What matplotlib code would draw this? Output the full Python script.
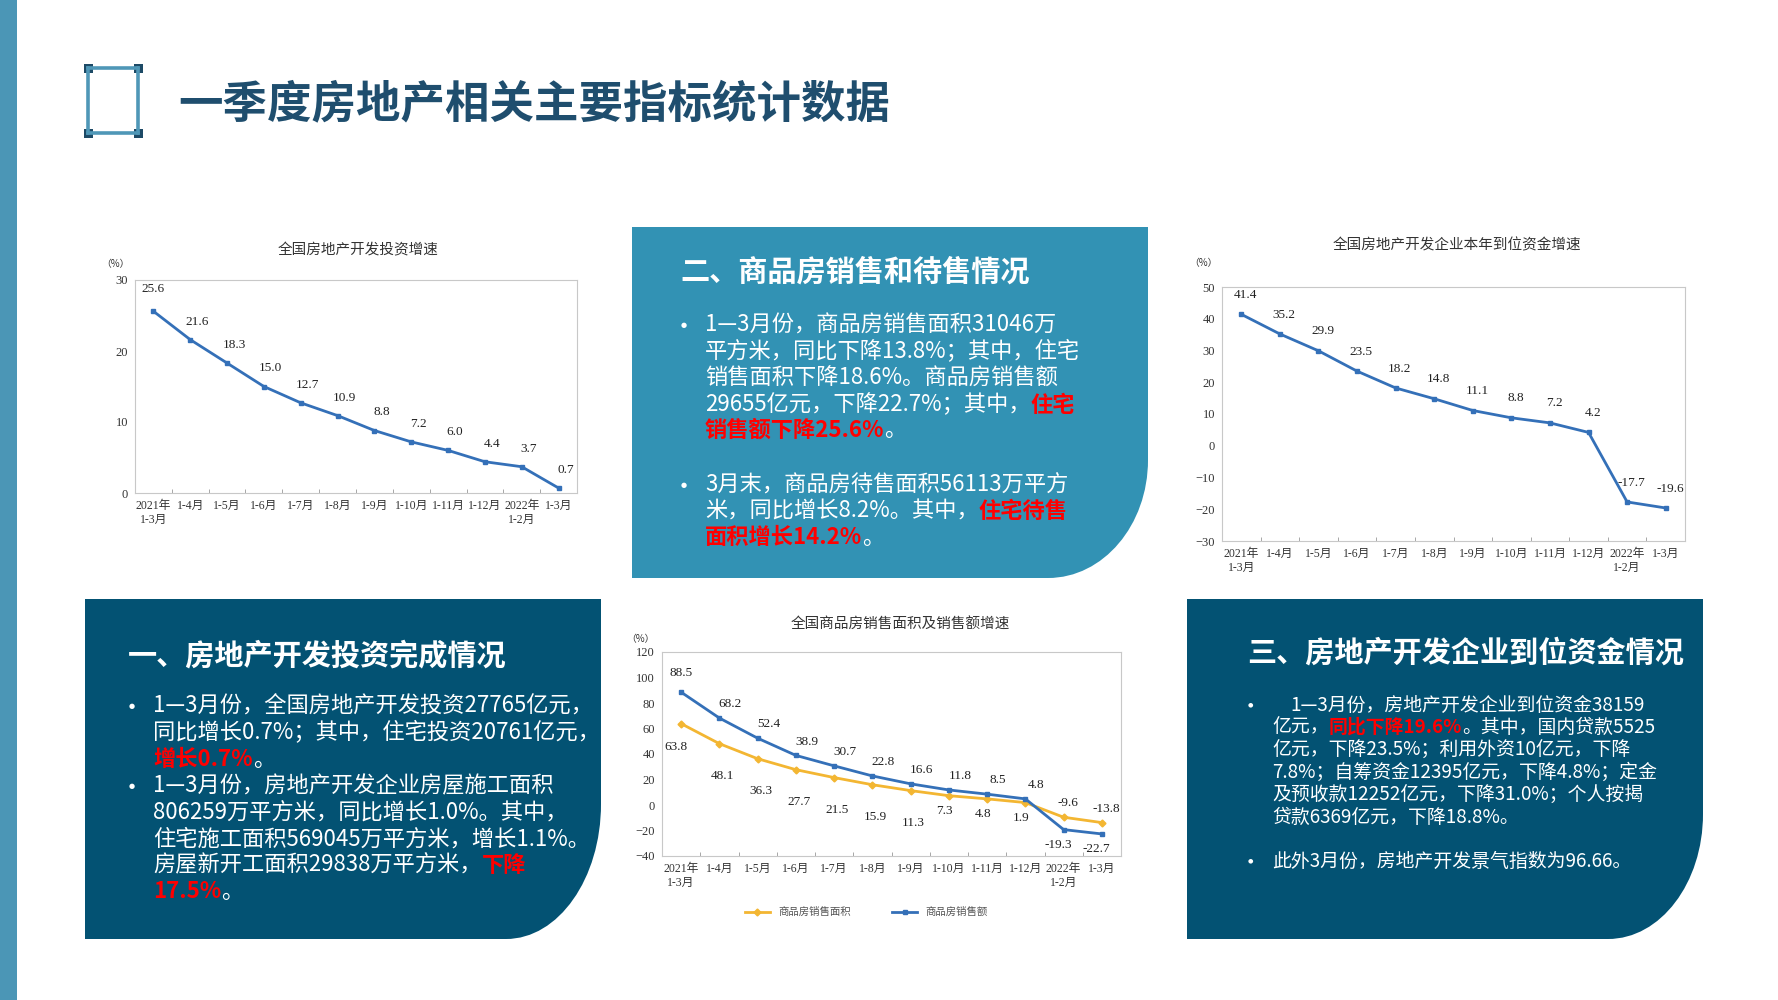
import matplotlib
matplotlib.use("Agg")
import matplotlib.pyplot as plt
from matplotlib.path import Path
from matplotlib.patches import PathPatch, Rectangle
from matplotlib.lines import Line2D
from matplotlib.transforms import Affine2D

W, H = 1778, 1000
CJK = ['Noto Sans CJK SC', 'DejaVu Sans']
SERIF = ['Liberation Serif', 'Noto Sans CJK SC']

# chart data
months = ['2021年\n1-3月', '1-4月', '1-5月', '1-6月', '1-7月', '1-8月', '1-9月',
          '1-10月', '1-11月', '1-12月', '2022年\n1-2月', '1-3月']
invest_growth = [25.6, 21.6, 18.3, 15.0, 12.7, 10.9, 8.8, 7.2, 6.0, 4.4, 3.7, 0.7]
funds_growth = [41.4, 35.2, 29.9, 23.5, 18.2, 14.8, 11.1, 8.8, 7.2, 4.2, -17.7, -19.6]
sales_area_growth = [63.8, 48.1, 36.3, 27.7, 21.5, 15.9, 11.3, 7.3, 4.8, 1.9, -9.6, -13.8]
sales_amount_growth = [88.5, 68.2, 52.4, 38.9, 30.7, 22.8, 16.6, 11.8, 8.5, 4.8, -19.3, -22.7]

page_title = '一季度房地产相关主要指标统计数据'
chart_titles = ['全国房地产开发投资增速', '全国房地产开发企业本年到位资金增速',
                '全国商品房销售面积及销售额增速']
legend_names = ['商品房销售面积', '商品房销售额']

# text blocks: (text, highlighted)
box1_title = '一、房地产开发投资完成情况'
box1_lines = [
    [('1—3月份，全国房地产开发投资27765亿元，', 0)],
    [('同比增长0.7%；其中，住宅投资20761亿元，', 0)],
    [('增长0.7%', 1), ('。', 0)],
    [('1—3月份，房地产开发企业房屋施工面积', 0)],
    [('806259万平方米，同比增长1.0%。其中，', 0)],
    [('住宅施工面积569045万平方米，增长1.1%。', 0)],
    [('房屋新开工面积29838万平方米，', 0), ('下降', 1)],
    [('17.5%', 1), ('。', 0)],
]
box2_title = '二、商品房销售和待售情况'
box2_lines = [
    [('1—3月份，商品房销售面积31046万', 0)],
    [('平方米，同比下降13.8%；其中，住宅', 0)],
    [('销售面积下降18.6%。商品房销售额', 0)],
    [('29655亿元，下降22.7%；其中，', 0), ('住宅', 1)],
    [('销售额下降25.6%', 1), ('。', 0)],
    [('3月末，商品房待售面积56113万平方', 0)],
    [('米，同比增长8.2%。其中，', 0), ('住宅待售', 1)],
    [('面积增长14.2%', 1), ('。', 0)],
]
box3_title = '三、房地产开发企业到位资金情况'
box3_lines = [
    [('1—3月份，房地产开发企业到位资金38159', 0)],
    [('亿元，', 0), ('同比下降19.6%', 1), ('。其中，国内贷款5525', 0)],
    [('亿元，下降23.5%；利用外资10亿元，下降', 0)],
    [('7.8%；自筹资金12395亿元，下降4.8%；定金', 0)],
    [('及预收款12252亿元，下降31.0%；个人按揭', 0)],
    [('贷款6369亿元，下降18.8%。', 0)],
    [('此外3月份，房地产开发景气指数为96.66。', 0)],
]

DARK = '#035273'
MID = '#3292b4'
RED = '#ff0000'

fig = plt.figure(figsize=(W / 100, H / 100), dpi=100)
fig.patch.set_facecolor('white')
# pixel coords, y measured from the top
TP = Affine2D().scale(1 / W, -1 / H).translate(0, 1) + fig.transFigure
renderer = fig.canvas.get_renderer()


def corner_box(x0, y0, x1, y1, rx, ry, color):
    k = 0.5523
    verts = [(x0, y0), (x1, y0), (x1, y1 - ry),
             (x1, y1 - ry + k * ry), (x1 - rx + k * rx, y1), (x1 - rx, y1),
             (x0, y1), (x0, y0)]
    codes = [Path.MOVETO, Path.LINETO, Path.LINETO, Path.CURVE4, Path.CURVE4,
             Path.CURVE4, Path.LINETO, Path.CLOSEPOLY]
    fig.add_artist(PathPatch(Path(verts, codes), transform=TP, facecolor=color,
                             edgecolor='none', zorder=0))


def write_runs(x, y, parts, size):
    for s, hl in parts:
        t = fig.text(x, y, s, transform=TP, fontsize=size, va='center', ha='left',
                     color=RED if hl else 'white',
                     fontweight='bold' if hl else 'normal', family=CJK)
        x += t.get_window_extent(renderer).width


def bullet(x, y, size):
    fig.text(x, y, '●', transform=TP, fontsize=size, color='white',
             va='center', ha='center', family=['DejaVu Sans'])


# left strip and title icon
fig.add_artist(Rectangle((0, 0), 17, H, transform=TP, facecolor='#4b96b6',
                         edgecolor='none'))
ix0, iy0, ix1, iy1 = 88, 68, 138, 133
for xs, ys in [((ix0, ix1), (iy0, iy0)), ((ix0, ix1), (iy1, iy1)),
               ((ix0, ix0), (iy0, iy1)), ((ix1, ix1), (iy0, iy1))]:
    fig.add_artist(Line2D(xs, ys, transform=TP, color='#4f97b7', lw=2.6))
for cx, cy in [(ix0, iy0), (ix1, iy0), (ix0, iy1), (ix1, iy1)]:
    fig.add_artist(Rectangle((cx - 4.5, cy - 4.5), 9, 9, transform=TP,
                             facecolor='#1d4a66', edgecolor='none'))
fig.text(178, 104, page_title, transform=TP, fontsize=32, fontweight='bold',
         color='#1f4e6e', va='center', ha='left', family=CJK)

# coloured boxes
corner_box(632, 227, 1148, 578, 100, 118, MID)
corner_box(85, 599, 601, 939, 95, 135, DARK)
corner_box(1187, 599, 1703, 939, 95, 125, DARK)

# box 2
fig.text(680, 272, box2_title, transform=TP, fontsize=21, fontweight='bold',
         color='white', va='center', family=CJK)
for ln, y in zip(box2_lines, [325, 352, 378, 405, 430, 485, 511, 537]):
    write_runs(705, y, ln, 16)
bullet(684, 325, 5)
bullet(684, 485, 5)

# box 1
fig.text(128, 655, box1_title, transform=TP, fontsize=21, fontweight='bold',
         color='white', va='center', family=CJK)
for ln, y in zip(box1_lines, [706, 733, 760, 786, 813, 839, 865, 891]):
    write_runs(153, y, ln, 16)
bullet(132, 706, 5)
bullet(132, 786, 5)

# box 3
fig.text(1247, 653, box3_title, transform=TP, fontsize=21, fontweight='bold',
         color='white', va='center', family=CJK)
for i, (ln, y) in enumerate(zip(box3_lines, [705, 727, 750, 772, 795, 817, 861])):
    write_runs(1290 if i == 0 else 1272, y, ln, 13.6)
bullet(1250, 705, 4.5)
bullet(1250, 861, 4.5)


# charts
def px_axes(x0, y0, x1, y1):
    return fig.add_axes([x0 / W, 1 - y1 / H, (x1 - x0) / W, (y1 - y0) / H])


def style_chart(ax, lo, hi, step):
    ax.set_xlim(-0.5, 11.5)
    ax.set_ylim(lo, hi)
    ax.set_yticks(range(lo, hi + 1, step))
    ax.set_xticks(range(12))
    ax.set_xticklabels(months, fontsize=8.5, family=SERIF, color='#333333',
                       linespacing=1.2)
    ax.set_xticks([i + 0.5 for i in range(11)], minor=True)
    ax.tick_params(axis='x', which='major', length=0, pad=5)
    ax.tick_params(axis='x', which='minor', length=3, direction='in',
                   color='#999999')
    ax.tick_params(axis='y', length=0, pad=5, labelsize=9,
                   labelcolor='#333333')
    for lab in ax.get_yticklabels():
        lab.set_family(SERIF)
    for sp in ax.spines.values():
        sp.set_color('#c8c8c8')
        sp.set_linewidth(0.8)


def chart_text(x, y, s, size, weight='normal'):
    fig.text(x, y, s, transform=TP, fontsize=size, color='#333333',
             fontweight=weight, ha='center', va='center', family=CJK)


def label(ax, i, v, dx, dy):
    ax.annotate(f'{v:.1f}', (i, v), xytext=(dx, dy), textcoords='offset points',
                ha='center', va='center', fontsize=9.5, family=SERIF,
                color='#222222')


BLUE = '#3470b8'
YELLOW = '#f3b632'
xs = range(12)

# chart 1: investment growth
ax1 = px_axes(135, 280, 577, 493)
style_chart(ax1, 0, 30, 10)
ax1.plot(xs, invest_growth, color=BLUE, lw=2, marker='s', ms=3.5)
for i, v in enumerate(invest_growth):
    label(ax1, i, v, 0 if i == 0 else 5, 16 if i == 0 else 13)
chart_text(358, 250, chart_titles[0], 10.5, 'medium')
chart_text(115, 264, '（%）', 7)

# chart 2: funds growth
ax2 = px_axes(1222, 287, 1685, 541)
style_chart(ax2, -30, 50, 10)
ax2.plot(xs, funds_growth, color=BLUE, lw=2, marker='s', ms=3.5)
for i, v in enumerate(funds_growth):
    label(ax2, i, v, 3, 14)
chart_text(1457, 245, chart_titles[1], 10.5, 'medium')
chart_text(1203, 263, '（%）', 7)

# chart 3: sales area / amount growth
ax3 = px_axes(662, 652, 1121, 856)
style_chart(ax3, -40, 120, 20)
ax3.plot(xs, sales_area_growth, color=YELLOW, lw=2, marker='D', ms=3.5,
         label=legend_names[0])
ax3.plot(xs, sales_amount_growth, color=BLUE, lw=2, marker='s', ms=3.5,
         label=legend_names[1])
for i, v in enumerate(sales_amount_growth):
    if i < 10:
        label(ax3, i, v, 0 if i == 0 else 8, 14 if i == 0 else 10)
    else:
        label(ax3, i, v, -4, -11)
for i, v in enumerate(sales_area_growth):
    if i < 7:
        label(ax3, i, v, -4 if i == 0 else 2, -17 if i == 0 else -23)
    elif i < 10:
        label(ax3, i, v, -3, -11)
    else:
        label(ax3, i, v, 3, 10)
chart_text(900, 625, chart_titles[2], 10.5, 'medium')
chart_text(640, 639, '（%）', 7)
leg = ax3.legend(loc='center', bbox_to_anchor=(0.445, -0.275), ncol=2,
                 frameon=False, handlelength=2.4, columnspacing=4.0,
                 prop={'family': CJK, 'size': 7.5})
for t in leg.get_texts():
    t.set_color('#555555')

fig.savefig('out.png', dpi=100, facecolor='white')
